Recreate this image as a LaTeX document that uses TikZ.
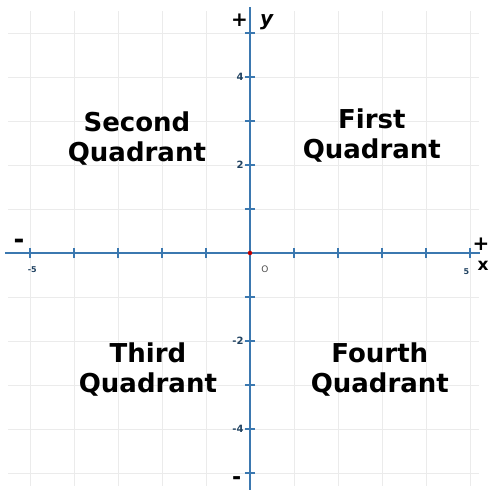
\documentclass[tikz,border=0pt]{standalone}
\usepackage{fontspec}
\setmainfont{DejaVu Sans}
\usepackage{xcolor}
\usepackage{tikz}
\usetikzlibrary{positioning}

\definecolor{axisblue}{HTML}{3B78B0}
\definecolor{gridgray}{HTML}{EBEBEB}

\begin{document}
\begin{tikzpicture}[
    x=44pt, y=44pt,
    quad/.style={font=\fontsize{26}{30}\selectfont\bfseries, text=black, align=center},
    sign/.style={font=\fontsize{20}{20}\selectfont\bfseries, text=black, inner sep=0pt},
    ticklbl/.style={font=\fontsize{10}{10}\selectfont\bfseries, text=axisblue!55!black, inner sep=1pt},
    xticklbl/.style={font=\fontsize{8}{8}\selectfont\bfseries, text=axisblue!55!black, inner sep=0pt},
    axis/.style={draw=axisblue, line width=1.2pt},
    tickmark/.style={draw=axisblue, line width=1.4pt}
]
    \useasboundingbox (-5.682,-5.386) rectangle (5.455,5.75);

    % Faint grid
    \foreach \i in {-5,...,5} {
        \draw[gridgray, line width=0.5pt] (\i,-5.3) -- (\i,5.5);
        \draw[gridgray, line width=0.5pt] (-5.5,\i) -- (5.2,\i);
    }

    % Axes
    \coordinate (xl) at (-5.57,0);
    \coordinate (xr) at (5.23,0);
    \coordinate (yb) at (0,-5.39);
    \coordinate (yt) at (0,5.6);
    \draw[axis] (xl) -- (xr);
    \draw[axis] (yb) -- (yt);

    % Ticks
    \foreach \i in {-5,...,5} {
        \draw[tickmark] (\i,-0.12) -- (\i,0.12);
        \draw[tickmark] (-0.12,\i) -- (0.12,\i);
    }

    % Origin
    \node[circle, fill=red!75!black, inner sep=0pt, minimum size=4.5pt] (o) at (0,0) {};
    \node[font=\fontsize{9}{9}\selectfont, text=black!70, inner sep=0pt] (olbl) at (0.34,-0.36) {O};

    % Tick labels
    \node[ticklbl, anchor=east] (ly4) at (-0.12,4) {4};
    \node[ticklbl, anchor=east] (ly2) at (-0.12,2) {2};
    \node[ticklbl, anchor=east] (lym2) at (-0.12,-2) {-2};
    \node[ticklbl, anchor=east] (lym4) at (-0.12,-4) {-4};
    \node[xticklbl] (lxm5) at (-4.95,-0.38) {-5};
    \node[xticklbl] (lx5) at (4.92,-0.42) {5};

    % Axis ends
    \node[sign] (ytop) at (-0.24,5.3) {+};
    \node[font=\fontsize{20}{20}\selectfont\bfseries\itshape, inner sep=0pt] (ylbl) at (0.38,5.25) {y};
    \node[font=\fontsize{26}{26}\selectfont\bfseries, inner sep=0pt] (xleft) at (-5.25,0.2) {-};
    \node[sign] (xright) at (5.25,0.2) {+};
    \node[font=\fontsize{17}{17}\selectfont\bfseries, inner sep=0pt] (xlbl) at (5.3,-0.3) {x};
    \node[font=\fontsize{22}{22}\selectfont\bfseries, inner sep=0pt] (ybot) at (-0.3,-5.17) {-};

    % Quadrant labels
    \node[quad] (q2) at (-2.57,2.61) {Second\\Quadrant};
    \node[quad] (q1) at (2.77,2.68) {First\\Quadrant};
    \node[quad] (q3) at (-2.32,-2.66) {Third\\Quadrant};
    \node[quad] (q4) at (2.95,-2.66) {Fourth\\Quadrant};
\end{tikzpicture}
\end{document}
